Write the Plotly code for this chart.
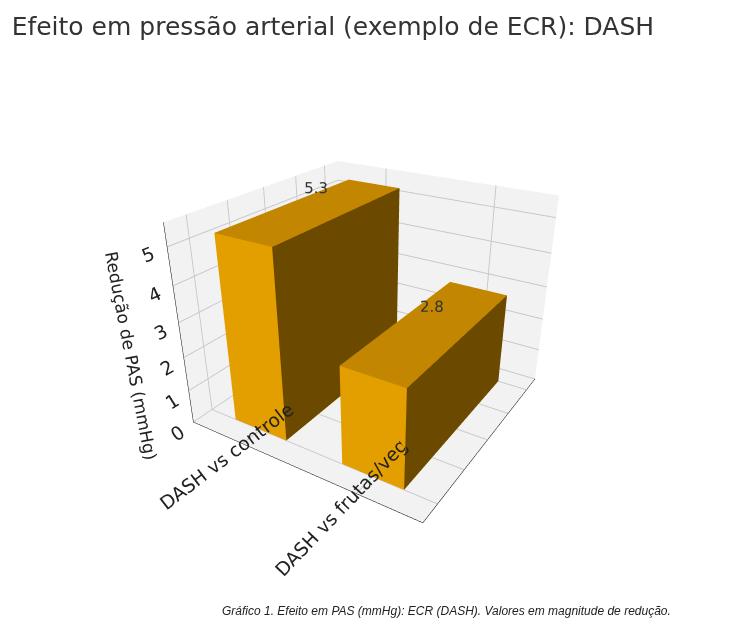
import plotly.graph_objects as go

categories = ["DASH vs controle", "DASH vs frutas/veg"]
values = [5.3, 2.8]
z_ticks = [0, 1, 2, 3, 4, 5]

fig = go.Figure()
w, d = 0.5, 0.8
for i, v in enumerate(values):
    x0, x1 = i - w/2, i + w/2
    y0, y1 = -d/2, d/2
    X = [x0, x1, x1, x0, x0, x1, x1, x0]
    Y = [y0, y0, y1, y1, y0, y0, y1, y1]
    Z = [0, 0, 0, 0, v, v, v, v]
    I = [0, 0, 4, 4, 0, 0, 1, 1, 2, 2, 3, 3]
    J = [1, 2, 5, 6, 1, 5, 2, 6, 3, 7, 0, 4]
    K = [2, 3, 6, 7, 5, 4, 6, 5, 7, 6, 4, 7]
    fc = ["#E39E00"]*2 + ["#C38600"]*2 + ["#E39E00"]*2 + ["#6B4A00"]*2 + ["#6B4A00"]*2 + ["#E39E00"]*2
    fig.add_trace(go.Mesh3d(x=X, y=Y, z=Z, i=I, j=J, k=K, facecolor=fc, flatshading=True,
                            lighting=dict(ambient=1, diffuse=0, specular=0), showscale=False, hoverinfo="skip"))
fig.add_trace(go.Scatter3d(x=[0, 1], y=[0, 0], z=values, mode="text",
                           text=[f"{v}" for v in values], textfont=dict(size=15, color="#333"),
                           showlegend=False))

ax = dict(backgroundcolor="#f2f2f2", showbackground=True, gridcolor="#c8c8c8", zeroline=False,
          linecolor="black", showline=True, tickfont=dict(size=15, color="#222"))
fig.update_layout(
    width=730, height=629, paper_bgcolor="white", showlegend=False,
    margin=dict(l=0, r=0, t=40, b=40),
    title=dict(text="Efeito em pressão arterial (exemplo de ECR): DASH", x=0.005, y=0.985,
               font=dict(family="DejaVu Sans", size=25, color="#333")),
    font=dict(family="DejaVu Sans"),
    scene=dict(
        xaxis=dict(ax, title="", tickvals=[0, 1], ticktext=categories, range=[-0.5, 1.5]),
        yaxis=dict(ax, title="", showticklabels=False, range=[-0.5, 0.5]),
        zaxis=dict(ax, title=dict(text="Redução de PAS (mmHg)", font=dict(size=17, color="#222")),
                   tickvals=z_ticks, range=[0, 5.6]),
        aspectmode="manual", aspectratio=dict(x=1, y=1, z=0.8),
        camera=dict(eye=dict(x=1.2, y=-1.9, z=1.1), center=dict(x=0, y=0, z=-0.05)),
    ),
    annotations=[dict(text="<i>Gráfico 1. Efeito em PAS (mmHg): ECR (DASH). Valores em magnitude de redução.</i>",
                      x=0.6, y=-0.01, xref="paper", yref="paper", yanchor="top", showarrow=False,
                      font=dict(size=12, color="#222", family="Liberation Sans"))],
)
fig.write_html("out.html")
